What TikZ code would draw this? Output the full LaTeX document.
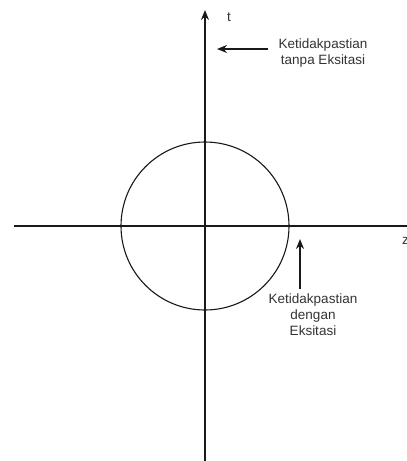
\documentclass[tikz,border=0pt]{standalone}
\usepackage{fontspec}
\setmainfont{Liberation Sans}
\usetikzlibrary{arrows.meta, positioning}
\definecolor{tDark}{RGB}{25, 25, 25}

\begin{document}
\begin{tikzpicture}[
    x=1pt, y=-1pt,
    font=\fontsize{13.5}{16}\selectfont,
    >={Stealth[length=10pt, width=8pt]},
    axis/.style={line width=1.3pt, color=tDark},
    arrow/.style={->, line width=1.3pt, color=tDark},
    note/.style={align=center, inner sep=1pt, text=black!80}
]
\useasboundingbox (0,0) rectangle (407,461);

% Axes
\coordinate (tTop) at (205, 10);
\coordinate (tBot) at (205, 461);
\coordinate (zLeft) at (14, 226);
\coordinate (zRight) at (410, 226);
\draw[axis] (zLeft) -- (zRight);
\draw[axis, ->] (tBot) -- (tTop);
\node[note] (tLab) at (229, 17) {t};
\node[note, anchor=west] (zLab) at (401, 241) {z};

% Circle of uncertainty
\node[circle, draw=tDark, line width=1.1pt, minimum size=168pt, inner sep=0pt] (ring) at (205, 226) {};

% Upper note
\node[note] (noExc) at (323, 53) {Ketidakpastian\\tanpa Eksitasi};
\coordinate (noTip) at (217, 49);
\draw[arrow] (noExc.west |- noTip) ++(-10,0) -- (noTip);

% Lower note
\node[note] (withExc) at (313, 315) {Ketidakpastian\\dengan\\Eksitasi};
\coordinate (withTip) at (300, 239);
\draw[arrow] (withTip |- withExc.north) ++(0,-4) -- (withTip);

\end{tikzpicture}
\end{document}
